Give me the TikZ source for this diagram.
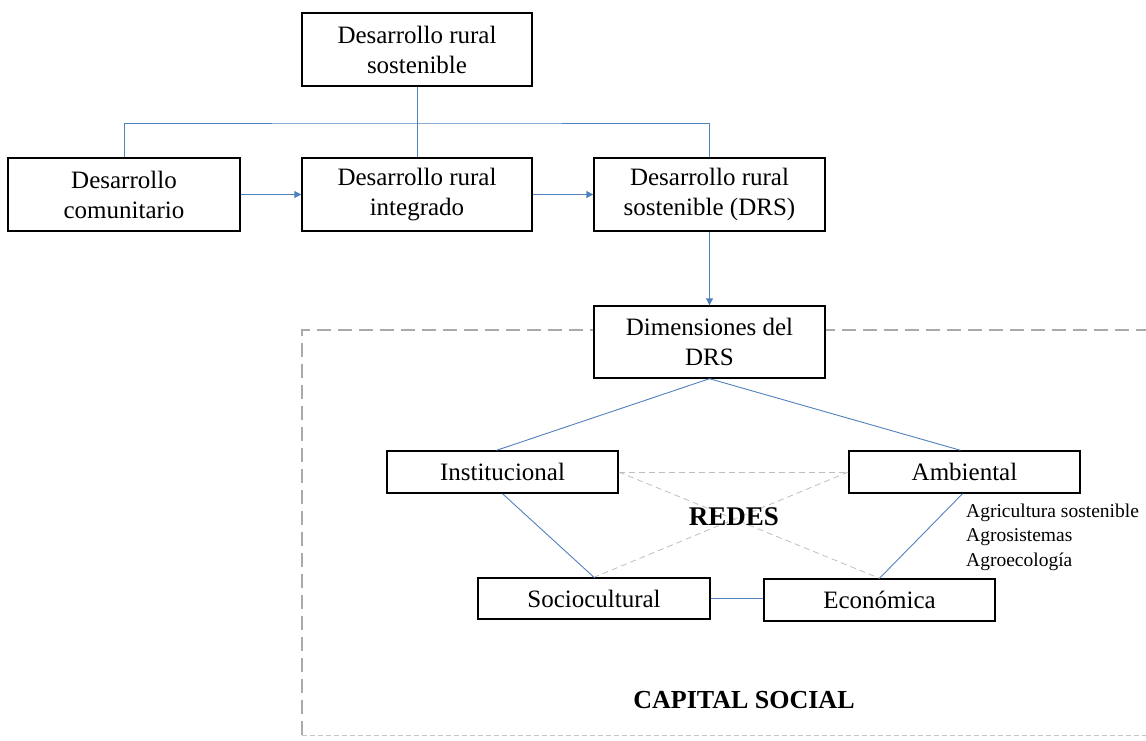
\documentclass[tikz,border=0pt]{standalone}
\usepackage{fontspec}
\setmainfont{Liberation Serif}
\usetikzlibrary{arrows.meta}
\definecolor{linkblue}{RGB}{79,129,189}
\definecolor{netgray}{RGB}{190,190,190}
\definecolor{framegray}{RGB}{170,170,170}
\begin{document}
\begin{tikzpicture}[x=1pt,y=-1pt,
  box/.style={draw=black,line width=1.4pt,fill=white,inner sep=0pt,
    align=center,font=\fontsize{25}{30}\selectfont},
  link/.style={draw=linkblue,line width=0.9pt},
  arrowlink/.style={link,-{Triangle[width=7pt,length=7pt]}},
  net/.style={draw=netgray,line width=0.8pt,dash pattern=on 6pt off 4pt},
]
\useasboundingbox (0,0) rectangle (1146,740);

% frame of the social capital area
\draw[framegray,line width=1.4pt,dash pattern=on 14pt off 7pt]
  (302,735) -- (302,330) -- (1146,330);
\draw[framegray!70,line width=1pt,dash pattern=on 5pt off 3pt]
  (302,735) -- (1146,735);

% boxes of the upper tree
\node[box,minimum width=230pt,minimum height=73pt] (top) at (417,49.5) {Desarrollo rural\\sostenible};
\node[box,minimum width=232pt,minimum height=73pt] (left) at (124,194.5) {Desarrollo\\comunitario};
\node[box,minimum width=230pt,minimum height=73pt] (mid) at (417,194.5) {Desarrollo rural\\integrado};
\node[box,minimum width=231pt,minimum height=73pt] (right) at (709.5,194.5) {Desarrollo rural\\sostenible (DRS)};
\node[box,minimum width=231pt,minimum height=72pt] (dim) at (709.5,342) {Dimensiones del\\DRS};

% dimension boxes
\node[box,minimum width=231pt,minimum height=42pt] (inst) at (502.5,472) {Institucional};
\node[box,minimum width=231pt,minimum height=42pt] (amb) at (964.5,472) {Ambiental};
\node[box,minimum width=232pt,minimum height=41pt] (socio) at (594,598.5) {Sociocultural};
\node[box,minimum width=231pt,minimum height=42pt] (econ) at (879.5,600) {Económica};

% tree connectors
\coordinate (bus) at (417,123);
\draw[link] (top.south) -- (mid.north);
\draw[link] (left.north) |- (bus) -| (right.north);
\draw[arrowlink] (left.east) -- (mid.west);
\draw[arrowlink] (mid.east) -- (right.west);
\draw[arrowlink] (right.south) -- (dim.north);

% dimension connectors
\draw[link] (dim.south) -- ([xshift=-6pt]inst.north);
\draw[link] (dim.south) -- ([xshift=-4pt]amb.north);
\draw[link] (inst.south) -- (socio.north);
\draw[link] ([xshift=-2pt]amb.south) -- (econ.north);
\draw[link] (socio.east) -- (econ.west |- socio.east);

% network links
\draw[net] (inst.east) -- (amb.west);
\draw[net] (inst.east) -- (econ.north);
\draw[net] (amb.west) -- (socio.north);

\node[font=\fontsize{27}{30}\selectfont\bfseries] (redes) at (734,517) {REDES};
\node[anchor=west,align=left,inner sep=0pt,font=\fontsize{19.5}{24.5}\selectfont] (agri) at (966,537)
  {Agricultura sostenible\\Agrosistemas\\Agroecología};
\node[font=\fontsize{26}{30}\selectfont\bfseries] (capital) at (744,700) {CAPITAL SOCIAL};
\end{tikzpicture}
\end{document}
